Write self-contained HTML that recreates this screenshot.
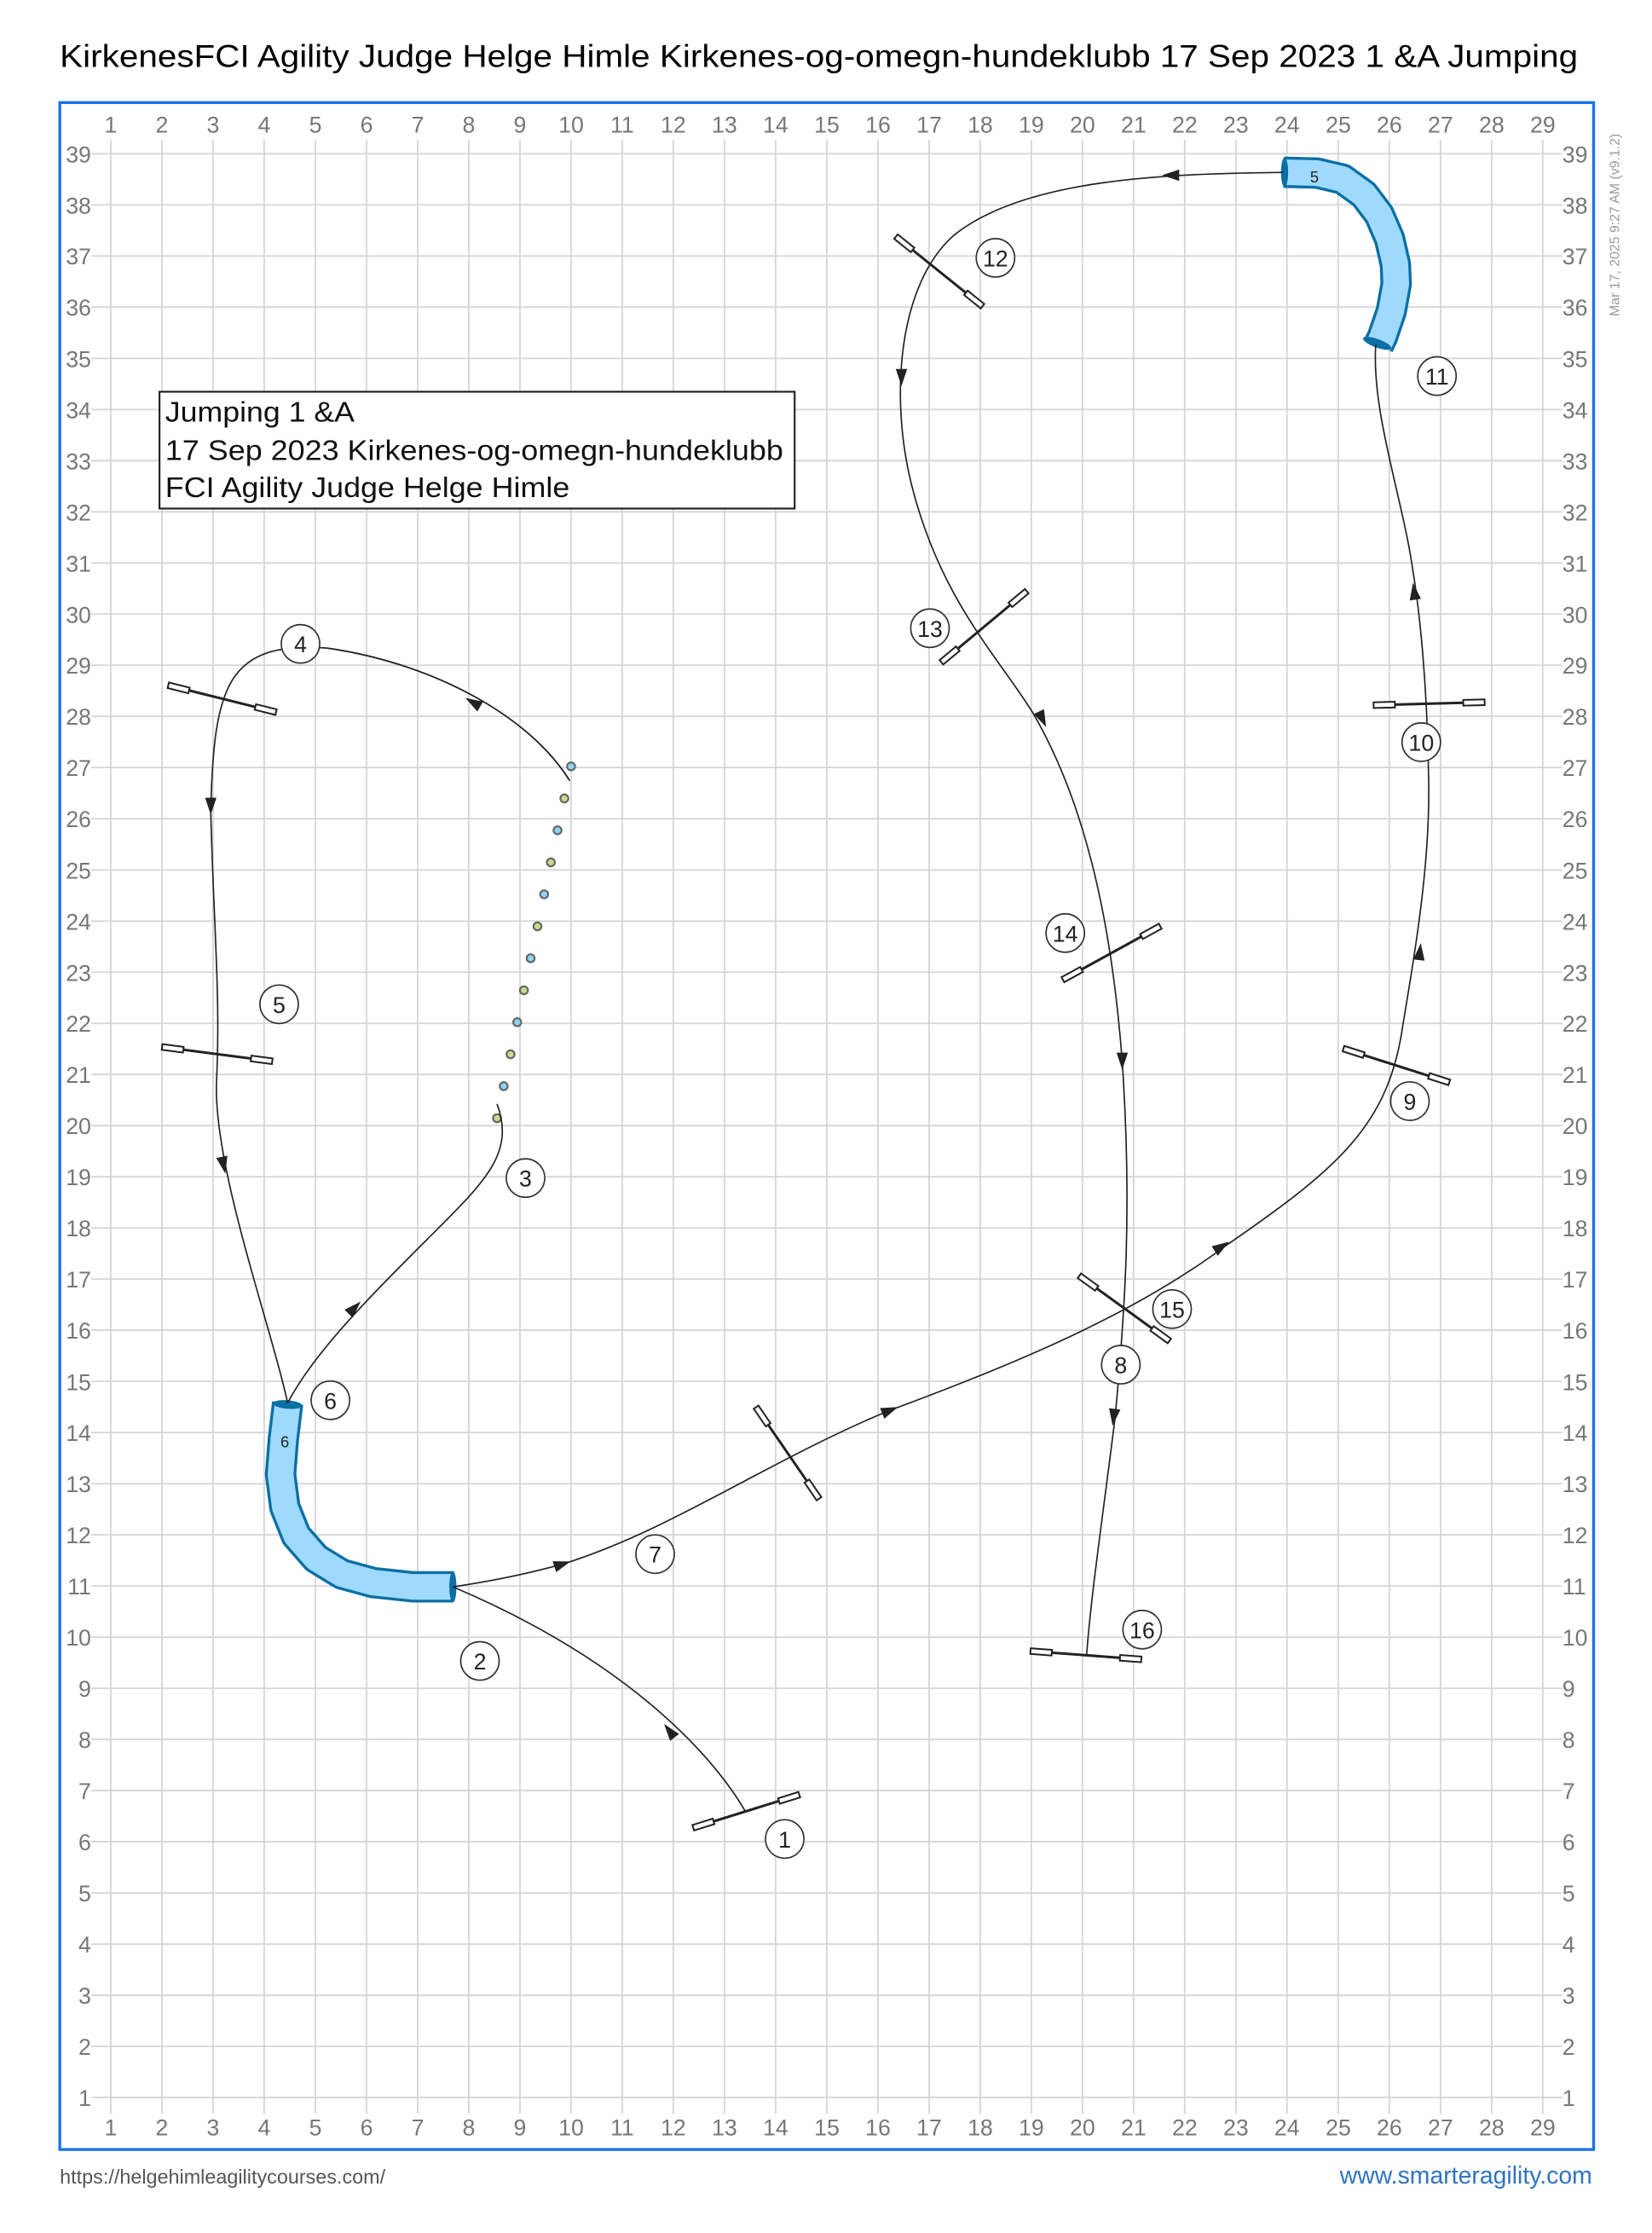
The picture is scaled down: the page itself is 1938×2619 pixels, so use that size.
<!DOCTYPE html>
<html><head><meta charset="utf-8"><style>html,body{margin:0;padding:0;background:#fff}svg{display:block}</style></head>
<body>
<svg width="1938" height="2619" viewBox="0 0 1160 1567.6" xmlns="http://www.w3.org/2000/svg" font-family="Liberation Sans, Arial, sans-serif">
<rect width="1160" height="1568" fill="#fff"/>
<text x="42" y="47" font-size="22" fill="#000" textLength="1066" lengthAdjust="spacingAndGlyphs">KirkenesFCI Agility Judge Helge Himle Kirkenes-og-omegn-hundeklubb 17 Sep 2023 1 &amp;A Jumping</text>
<g stroke="#d6d6d6" stroke-width="1.1">
<path d="M77.8 98V1484M113.7 98V1484M149.6 98V1484M185.5 98V1484M221.5 98V1484M257.4 98V1484M293.3 98V1484M329.2 98V1484M365.1 98V1484M401 98V1484M436.9 98V1484M472.8 98V1484M508.7 98V1484M544.6 98V1484M580.6 98V1484M616.5 98V1484M652.4 98V1484M688.3 98V1484M724.2 98V1484M760.1 98V1484M796 98V1484M831.9 98V1484M867.8 98V1484M903.7 98V1484M939.7 98V1484M975.6 98V1484M1011.5 98V1484M1047.4 98V1484M1083.3 98V1484"/>
<path d="M64 1472.5H1097M64 1436.6H1097M64 1400.7H1097M64 1364.8H1097M64 1328.9H1097M64 1292.9H1097M64 1257H1097M64 1221.1H1097M64 1185.2H1097M64 1149.3H1097M64 1113.4H1097M64 1077.5H1097M64 1041.6H1097M64 1005.7H1097M64 969.8H1097M64 933.8H1097M64 897.9H1097M64 862H1097M64 826.1H1097M64 790.2H1097M64 754.3H1097M64 718.4H1097M64 682.5H1097M64 646.6H1097M64 610.7H1097M64 574.7H1097M64 538.8H1097M64 502.9H1097M64 467H1097M64 431.1H1097M64 395.2H1097M64 359.3H1097M64 323.4H1097M64 287.5H1097M64 251.6H1097M64 215.6H1097M64 179.7H1097M64 143.8H1097M64 107.9H1097"/>
</g>
<g font-size="16" fill="#777" text-anchor="middle">
<rect x="70" y="80" width="1020" height="18" fill="#fff"/>
<rect x="70" y="1485" width="1020" height="18" fill="#fff"/>
<text y="93"><tspan x="77.8">1</tspan><tspan x="113.7">2</tspan><tspan x="149.6">3</tspan><tspan x="185.5">4</tspan><tspan x="221.5">5</tspan><tspan x="257.4">6</tspan><tspan x="293.3">7</tspan><tspan x="329.2">8</tspan><tspan x="365.1">9</tspan><tspan x="401">10</tspan><tspan x="436.9">11</tspan><tspan x="472.8">12</tspan><tspan x="508.7">13</tspan><tspan x="544.6">14</tspan><tspan x="580.6">15</tspan><tspan x="616.5">16</tspan><tspan x="652.4">17</tspan><tspan x="688.3">18</tspan><tspan x="724.2">19</tspan><tspan x="760.1">20</tspan><tspan x="796">21</tspan><tspan x="831.9">22</tspan><tspan x="867.8">23</tspan><tspan x="903.7">24</tspan><tspan x="939.7">25</tspan><tspan x="975.6">26</tspan><tspan x="1011.5">27</tspan><tspan x="1047.4">28</tspan><tspan x="1083.3">29</tspan></text>
<text y="1499"><tspan x="77.8">1</tspan><tspan x="113.7">2</tspan><tspan x="149.6">3</tspan><tspan x="185.5">4</tspan><tspan x="221.5">5</tspan><tspan x="257.4">6</tspan><tspan x="293.3">7</tspan><tspan x="329.2">8</tspan><tspan x="365.1">9</tspan><tspan x="401">10</tspan><tspan x="436.9">11</tspan><tspan x="472.8">12</tspan><tspan x="508.7">13</tspan><tspan x="544.6">14</tspan><tspan x="580.6">15</tspan><tspan x="616.5">16</tspan><tspan x="652.4">17</tspan><tspan x="688.3">18</tspan><tspan x="724.2">19</tspan><tspan x="760.1">20</tspan><tspan x="796">21</tspan><tspan x="831.9">22</tspan><tspan x="867.8">23</tspan><tspan x="903.7">24</tspan><tspan x="939.7">25</tspan><tspan x="975.6">26</tspan><tspan x="1011.5">27</tspan><tspan x="1047.4">28</tspan><tspan x="1083.3">29</tspan></text>
</g>
<g font-size="16" fill="#777">
<g text-anchor="end">
<text x="64" y="1478.5">1</text><text x="64" y="1442.6">2</text><text x="64" y="1406.7">3</text><text x="64" y="1370.8">4</text><text x="64" y="1334.9">5</text><text x="64" y="1298.9">6</text><text x="64" y="1263">7</text><text x="64" y="1227.1">8</text><text x="64" y="1191.2">9</text><text x="64" y="1155.3">10</text><text x="64" y="1119.4">11</text><text x="64" y="1083.5">12</text><text x="64" y="1047.6">13</text><text x="64" y="1011.7">14</text><text x="64" y="975.8">15</text><text x="64" y="939.8">16</text><text x="64" y="903.9">17</text><text x="64" y="868">18</text><text x="64" y="832.1">19</text><text x="64" y="796.2">20</text><text x="64" y="760.3">21</text><text x="64" y="724.4">22</text><text x="64" y="688.5">23</text><text x="64" y="652.6">24</text><text x="64" y="616.7">25</text><text x="64" y="580.7">26</text><text x="64" y="544.8">27</text><text x="64" y="508.9">28</text><text x="64" y="473">29</text><text x="64" y="437.1">30</text><text x="64" y="401.2">31</text><text x="64" y="365.3">32</text><text x="64" y="329.4">33</text><text x="64" y="293.5">34</text><text x="64" y="257.6">35</text><text x="64" y="221.6">36</text><text x="64" y="185.7">37</text><text x="64" y="149.8">38</text><text x="64" y="113.9">39</text>
</g>
<g text-anchor="start">
<text x="1097" y="1478.5">1</text><text x="1097" y="1442.6">2</text><text x="1097" y="1406.7">3</text><text x="1097" y="1370.8">4</text><text x="1097" y="1334.9">5</text><text x="1097" y="1298.9">6</text><text x="1097" y="1263">7</text><text x="1097" y="1227.1">8</text><text x="1097" y="1191.2">9</text><text x="1097" y="1155.3">10</text><text x="1097" y="1119.4">11</text><text x="1097" y="1083.5">12</text><text x="1097" y="1047.6">13</text><text x="1097" y="1011.7">14</text><text x="1097" y="975.8">15</text><text x="1097" y="939.8">16</text><text x="1097" y="903.9">17</text><text x="1097" y="868">18</text><text x="1097" y="832.1">19</text><text x="1097" y="796.2">20</text><text x="1097" y="760.3">21</text><text x="1097" y="724.4">22</text><text x="1097" y="688.5">23</text><text x="1097" y="652.6">24</text><text x="1097" y="616.7">25</text><text x="1097" y="580.7">26</text><text x="1097" y="544.8">27</text><text x="1097" y="508.9">28</text><text x="1097" y="473">29</text><text x="1097" y="437.1">30</text><text x="1097" y="401.2">31</text><text x="1097" y="365.3">32</text><text x="1097" y="329.4">33</text><text x="1097" y="293.5">34</text><text x="1097" y="257.6">35</text><text x="1097" y="221.6">36</text><text x="1097" y="185.7">37</text><text x="1097" y="149.8">38</text><text x="1097" y="113.9">39</text>
</g>
</g>
<rect x="42" y="72" width="1077" height="1437" fill="none" stroke="#1a73e8" stroke-width="2"/>
<text transform="translate(1137 222) rotate(-90)" font-size="9.5" fill="#999">Mar 17, 2025 9:27 AM  (v9.1.2)</text>

<!-- info box -->
<rect x="112" y="275" width="446" height="82" fill="#fff" stroke="#222" stroke-width="1.3"/>
<g font-size="20" fill="#111"><text x="116" y="296" textLength="133" lengthAdjust="spacingAndGlyphs">Jumping 1 &amp;A</text><text x="116" y="323" textLength="434" lengthAdjust="spacingAndGlyphs">17 Sep 2023 Kirkenes-og-omegn-hundeklubb</text><text x="116" y="349" textLength="284" lengthAdjust="spacingAndGlyphs">FCI Agility Judge Helge Himle</text></g>

<!-- tunnels -->
<g fill="none" stroke-linejoin="round">
<polyline points="202,985 199,1010 197,1035 200,1058 208,1078 222,1094 240,1105 262,1111 290,1114 318,1114" stroke="#0a6fa3" stroke-width="22"/>
<polyline points="202,985 199,1010 197,1035 200,1058 208,1078 222,1094 240,1105 262,1111 290,1114 318,1114" stroke="#9fd9fc" stroke-width="18"/>
<polyline points="901.4,120.9 924.8,121.5 942.7,125.7 957.7,136.5 968.5,150.8 975.7,167.6 979.8,185.5 980.4,199.3 976.9,218.5 970.8,236.4 967.9,242.4" stroke="#0a6fa3" stroke-width="22"/>
<polyline points="901.4,120.9 924.8,121.5 942.7,125.7 957.7,136.5 968.5,150.8 975.7,167.6 979.8,185.5 980.4,199.3 976.9,218.5 970.8,236.4 967.9,242.4" stroke="#9fd9fc" stroke-width="18"/>
</g>
<g fill="#0a6fa3">
<ellipse cx="202" cy="986" rx="10.5" ry="3" transform="rotate(5 202 986)"/>
<ellipse cx="318" cy="1114" rx="2.5" ry="11"/>
<ellipse cx="902" cy="121" rx="2.5" ry="10.5"/>
<ellipse cx="967" cy="241" rx="10.5" ry="3" transform="rotate(20 967 241)"/>
</g>
<g font-size="11" fill="#222" text-anchor="middle"><text x="200" y="1016">6</text><text x="923" y="128">5</text></g>

<!-- weave -->
<g stroke="#666" stroke-width="1.3">
<circle cx="401" cy="538" r="2.8" fill="#8fd3f7"/><circle cx="396.3" cy="560.5" r="2.8" fill="#c5dd8a"/><circle cx="391.5" cy="582.9" r="2.8" fill="#8fd3f7"/><circle cx="386.8" cy="605.4" r="2.8" fill="#c5dd8a"/><circle cx="382.1" cy="627.8" r="2.8" fill="#8fd3f7"/><circle cx="377.4" cy="650.3" r="2.8" fill="#c5dd8a"/><circle cx="372.6" cy="672.7" r="2.8" fill="#8fd3f7"/><circle cx="367.9" cy="695.2" r="2.8" fill="#c5dd8a"/><circle cx="363.2" cy="717.6" r="2.8" fill="#8fd3f7"/><circle cx="358.5" cy="740.1" r="2.8" fill="#c5dd8a"/><circle cx="353.7" cy="762.5" r="2.8" fill="#8fd3f7"/><circle cx="349" cy="785" r="2.8" fill="#c5dd8a"/>
</g>

<!-- path -->
<g fill="none" stroke="#222" stroke-width="1">
<path d="M523 1271 C505 1240 450 1170 318 1114"/>
<path d="M202 985 C220 950 260 910 300 870 C340 830 362 810 349 775"/>
<path d="M400 548 C370 500 300 465 230 455 C160 450 150480 148 570"/>
<path d="M400 548 C370 500 300 465 230 455 C160 450 150 480 148 570"/>
<path d="M148 570 C150 650 155 700 152 760 C150 820 190 930 202 985"/>
<path d="M318 1114 C345 1110 370 1105 395 1098 C470 1075 540 1025 625 990 C720 955 800 920 860 875 C940 820 975 790 985 720 C995 660 1005 600 1003 540 C1002 480 997 430 992 400 C985 350 963 290 966 242"/>
<path d="M901 121 C820 122 720 125 670 165 C630 200 625 280 640 340 C660 420 700 460 725 500 C760 560 780 640 788 745 C795 850 790 920 783 995 C775 1060 766 1120 763 1162"/>
</g>
<g fill="#222">
<polygon points="6,0 -6,-4 -6,4" transform="translate(470 1215) rotate(-128)"/>
<polygon points="6,0 -6,-4 -6,4" transform="translate(249 918) rotate(-45)"/>
<polygon points="6,0 -6,-4 -6,4" transform="translate(332 493) rotate(-150)"/>
<polygon points="6,0 -6,-4 -6,4" transform="translate(148 566) rotate(90)"/>
<polygon points="6,0 -6,-4 -6,4" transform="translate(157 818) rotate(78)"/>
<polygon points="6,0 -6,-4 -6,4" transform="translate(395 1098) rotate(-18)"/>
<polygon points="6,0 -6,-4 -6,4" transform="translate(625 990) rotate(-22)"/>
<polygon points="6,0 -6,-4 -6,4" transform="translate(858 875) rotate(-33)"/>
<polygon points="6,0 -6,-4 -6,4" transform="translate(997 668) rotate(-84)"/>
<polygon points="6,0 -6,-4 -6,4" transform="translate(993 415) rotate(-98)"/>
<polygon points="6,0 -6,-4 -6,4" transform="translate(822 123) rotate(180)"/>
<polygon points="6,0 -6,-4 -6,4" transform="translate(633 265) rotate(90)"/>
<polygon points="6,0 -6,-4 -6,4" transform="translate(732 505) rotate(65)"/>
<polygon points="6,0 -6,-4 -6,4" transform="translate(788 745) rotate(90)"/>
<polygon points="6,0 -6,-4 -6,4" transform="translate(782 995) rotate(97)"/>
</g>

<!-- jumps -->
<defs>
<g id="j"><line x1="-38" y1="0" x2="38" y2="0" stroke="#222" stroke-width="1.8"/><rect x="-39" y="-2" width="15" height="4" fill="#fff" stroke="#222" stroke-width="1.2"/><rect x="24" y="-2" width="15" height="4" fill="#fff" stroke="#222" stroke-width="1.2"/></g>
</defs>
<use href="#j" transform="translate(524 1271.5) rotate(-17.3)"/>
<use href="#j" transform="translate(156 490.5) rotate(14)"/>
<use href="#j" transform="translate(152.5 740) rotate(7.4)"/>
<use href="#j" transform="translate(553 1020) rotate(55.5)"/>
<use href="#j" transform="translate(980.5 748) rotate(17.7)"/>
<use href="#j" transform="translate(1003.5 494) rotate(-1.5)"/>
<use href="#j" transform="translate(659.5 190.5) rotate(38.8)"/>
<use href="#j" transform="translate(691 440) rotate(-39.8)"/>
<use href="#j" transform="translate(780.5 669) rotate(-28.8)"/>
<use href="#j" transform="translate(789.5 918.5) rotate(35.9)"/>
<use href="#j" transform="translate(762.5 1162) rotate(4.3)"/>

<!-- numbers -->
<g fill="#fff" stroke="#333" stroke-width="1">
<circle cx="551" cy="1291" r="13.5"/><circle cx="337" cy="1166" r="13.5"/><circle cx="369" cy="827" r="13.5"/><circle cx="211" cy="452" r="13.5"/><circle cx="196" cy="705" r="13.5"/><circle cx="232" cy="983" r="13.5"/><circle cx="460" cy="1091" r="13.5"/><circle cx="787" cy="958" r="13.5"/><circle cx="990" cy="773" r="13.5"/><circle cx="998" cy="521" r="13.5"/><circle cx="1009" cy="264" r="13.5"/><circle cx="699" cy="181" r="13.5"/><circle cx="653" cy="441" r="13.5"/><circle cx="748" cy="655" r="13.5"/><circle cx="823" cy="919" r="13.5"/><circle cx="802" cy="1144" r="13.5"/>
</g>
<g font-size="16" fill="#222" text-anchor="middle">
<text x="551" y="1297">1</text><text x="337" y="1172">2</text><text x="369" y="833">3</text><text x="211" y="458">4</text><text x="196" y="711">5</text><text x="232" y="989">6</text><text x="460" y="1097">7</text><text x="787" y="964">8</text><text x="990" y="779">9</text><text x="998" y="527">10</text><text x="1009" y="270">11</text><text x="699" y="187">12</text><text x="653" y="447">13</text><text x="748" y="661">14</text><text x="823" y="925">15</text><text x="802" y="1150">16</text>
</g>

<text x="42" y="1533" font-size="14" fill="#555">https://helgehimleagilitycourses.com/</text>
<text x="1118" y="1533" font-size="17" fill="#2f74c0" text-anchor="end">www.smarteragility.com</text>
</svg>
</body></html>
